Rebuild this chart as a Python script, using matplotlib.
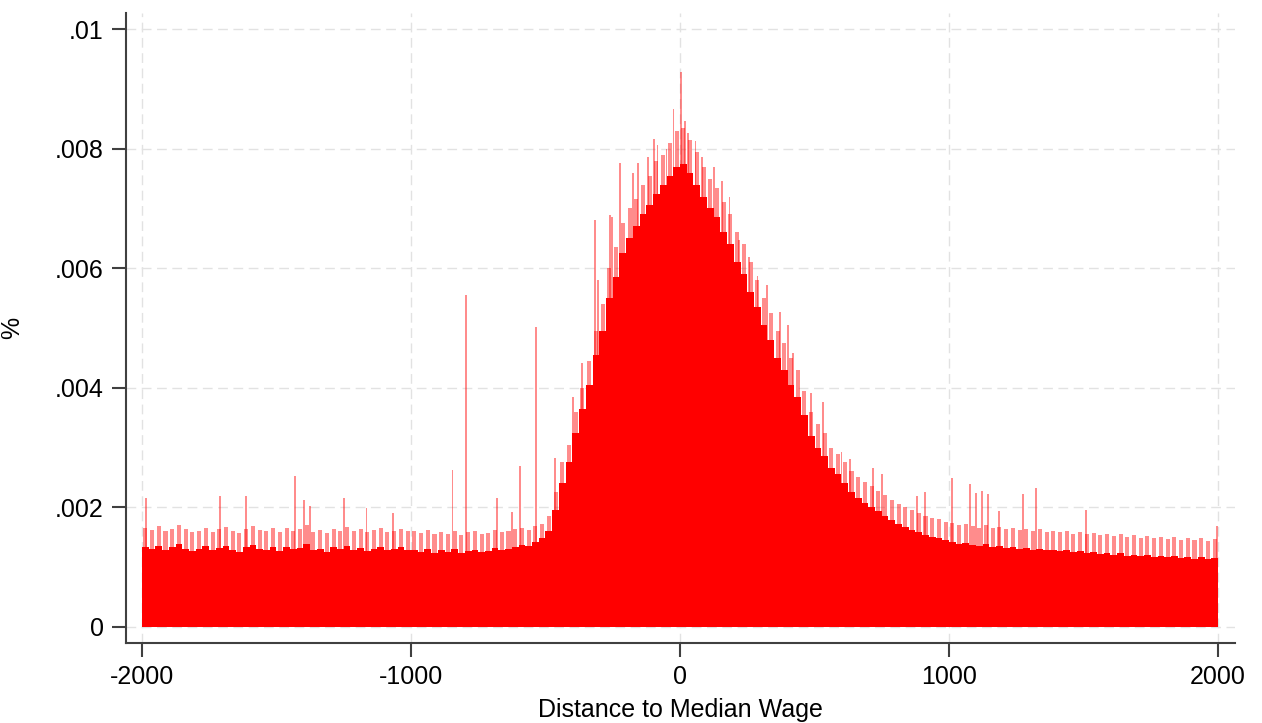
import matplotlib
matplotlib.use("Agg")
import matplotlib.pyplot as plt
import numpy as np

plt.rcParams["font.family"] = ["Liberation Sans", "DejaVu Sans"]

# ---- data (per mille, i.e. x 0.001) ----
# 25-unit bins from -2000 to 2000: left edges
bin_left = np.arange(-2000, 2000, 25)
bin_width = 25

# pale upper envelope of each bin
top = [
    1.66, 1.62, 1.68, 1.60, 1.64, 1.70, 1.63, 1.58, 1.61, 1.66,
    1.59, 1.63, 1.67, 1.60, 1.57, 1.64, 1.69, 1.62, 1.60, 1.65,
    1.58, 1.66, 1.61, 1.63, 1.70, 1.59, 1.62, 1.57, 1.64, 1.61,
    1.67, 1.60, 1.63, 1.58, 1.62, 1.66, 1.59, 1.61, 1.64, 1.60,
    1.60, 1.57, 1.62, 1.55, 1.59, 1.56, 1.61, 1.54, 1.58, 1.60,
    1.55, 1.57, 1.62, 1.58, 1.60, 1.63, 1.65, 1.62, 1.68,
    1.72, 1.85, 2.25, 2.75, 3.05, 3.60, 4.00, 4.45, 4.95, 5.40,
    6.00, 6.35, 6.75, 7.00, 7.15, 7.40, 7.55, 7.80, 7.90, 8.10,
    8.30, 8.35, 8.15, 7.95, 7.70, 7.50, 7.35, 7.10, 6.90, 6.60,
    6.40, 6.10, 5.80, 5.50, 5.25, 4.95, 4.75, 4.50, 4.30, 3.95,
    3.60, 3.40, 3.25, 3.00, 2.90, 2.75, 2.60, 2.50, 2.42, 2.35,
    2.28, 2.20, 2.12, 2.05, 2.00, 1.95, 1.90, 1.86, 1.82, 1.80,
    1.76,
    1.74, 1.70, 1.72, 1.68, 1.66, 1.70, 1.65, 1.67, 1.63, 1.66,
    1.62, 1.64, 1.60, 1.63, 1.59, 1.61, 1.58, 1.60, 1.56, 1.59,
    1.55, 1.57, 1.53, 1.56, 1.52, 1.55, 1.50, 1.53, 1.49, 1.52,
    1.48, 1.51, 1.47, 1.50, 1.46, 1.49, 1.45, 1.48, 1.44, 1.47,
]

# dense (solid) level of each bin
solid = [
    1.34, 1.30, 1.36, 1.28, 1.33, 1.38, 1.31, 1.27, 1.30, 1.35,
    1.28, 1.32, 1.35, 1.29, 1.26, 1.33, 1.37, 1.31, 1.29, 1.34,
    1.27, 1.34, 1.30, 1.32, 1.38, 1.28, 1.31, 1.26, 1.33, 1.30,
    1.35, 1.29, 1.32, 1.27, 1.31, 1.34, 1.28, 1.30, 1.33, 1.29,
    1.29, 1.26, 1.31, 1.24, 1.28, 1.25, 1.30, 1.23, 1.27, 1.29,
    1.25, 1.27, 1.32, 1.29, 1.31, 1.34, 1.37, 1.35, 1.42,
    1.48, 1.60, 1.95, 2.40, 2.75, 3.25, 3.65, 4.05, 4.55, 4.95,
    5.50, 5.85, 6.25, 6.50, 6.70, 6.90, 7.05, 7.25, 7.40, 7.55,
    7.70, 7.75, 7.60, 7.40, 7.20, 7.00, 6.85, 6.60, 6.40, 6.10,
    5.90, 5.60, 5.35, 5.05, 4.80, 4.50, 4.30, 4.05, 3.85, 3.55,
    3.20, 3.00, 2.85, 2.65, 2.55, 2.40, 2.25, 2.15, 2.08, 2.00,
    1.93, 1.86, 1.79, 1.72, 1.67, 1.62, 1.58, 1.54, 1.50, 1.48,
    1.45,
    1.42, 1.39, 1.40, 1.37, 1.35, 1.38, 1.34, 1.35, 1.32, 1.34,
    1.31, 1.32, 1.29, 1.31, 1.28, 1.29, 1.27, 1.28, 1.25, 1.27,
    1.24, 1.25, 1.22, 1.24, 1.21, 1.23, 1.19, 1.21, 1.18, 1.20,
    1.17, 1.19, 1.16, 1.18, 1.15, 1.17, 1.14, 1.16, 1.13, 1.15,
]

# single tall bins sticking out of the envelope
spike_x = [-1986, -1710, -1614, -1431, -1398, -1375, -1250, -1166, -1067,
           -845, -796, -680, -625, -595, -535, -465, -398, -365, -316, -305,
           -260, -253, -223, -174, -156, -119, -97, -83, -50, -24, 4, 18,
           30, 58, 82, 126, 155, 184, 220, 256, 288, 323, 372, 401, 420,
           486, 532, 601, 632, 717, 750, 880, 911, 1011, 1078, 1100, 1123,
           1145, 1186, 1275, 1323, 1509, 1997]
spike_y = [2.16, 2.19, 2.19, 2.52, 2.12, 2.02, 2.16, 1.99, 1.90,
           2.63, 5.55, 2.16, 1.92, 2.69, 5.02, 2.83, 3.85, 4.41, 6.80, 5.80,
           6.89, 6.86, 7.76, 7.60, 7.76, 7.86, 8.16, 8.06, 8.00, 8.66, 9.28, 8.46,
           8.26, 8.13, 7.86, 7.70, 7.46, 7.20, 6.47, 6.19, 5.87, 5.72, 5.27, 5.05, 4.58,
           3.91, 3.76, 2.93, 2.81, 2.66, 2.56, 2.19, 2.26, 2.49, 2.39, 2.24, 2.27,
           2.22, 1.94, 2.22, 2.32, 1.96, 1.69]

yticks = [0, 0.002, 0.004, 0.006, 0.008, 0.01]
ytick_labels = ["0", ".002", ".004", ".006", ".008", ".01"]
xticks = [-2000, -1000, 0, 1000, 2000]

fig = plt.figure(figsize=(12.62, 7.23), dpi=100)
ax = fig.add_axes([0.0998, 0.1107, 0.8788, 0.8713])

top_v = np.array(top) / 1000
solid_v = np.array(solid) / 1000
# pale tips drawn narrower so they read as thin lines above the dense fill
ax.bar(bin_left + bin_width / 2, top_v, width=15, color="#ff0000",
       alpha=0.45, linewidth=0, zorder=2)
ax.bar(bin_left, solid_v, width=bin_width, align="edge", color="#ff0000",
       linewidth=0, zorder=3)
ax.bar(spike_x, np.array(spike_y) / 1000, width=6, color="#ff0000",
       alpha=0.45, linewidth=0, zorder=2)

ax.set_xlim(-2059.5, 2063)
ax.set_ylim(-0.00027, 0.01027)
ax.set_xticks(xticks)
ax.set_xticklabels([str(t) for t in xticks])
ax.set_yticks(yticks)
ax.set_yticklabels(ytick_labels)

ax.grid(True, color="#e2e2e2", linestyle=(0, (7, 4)), linewidth=1.0, zorder=0)
ax.set_axisbelow(True)
for s in ["top", "right"]:
    ax.spines[s].set_visible(False)
for s in ["left", "bottom"]:
    ax.spines[s].set_color("#404040")
    ax.spines[s].set_linewidth(1.5)
ax.tick_params(axis="both", direction="out", length=10, width=1.5,
               color="#404040", labelsize=18, labelcolor="black", pad=6)

ax.set_xlabel("Distance to Median Wage", fontsize=18, labelpad=6)
ax.set_ylabel("%", fontsize=18, labelpad=22)

fig.savefig("out.png", dpi=100, facecolor="white")
